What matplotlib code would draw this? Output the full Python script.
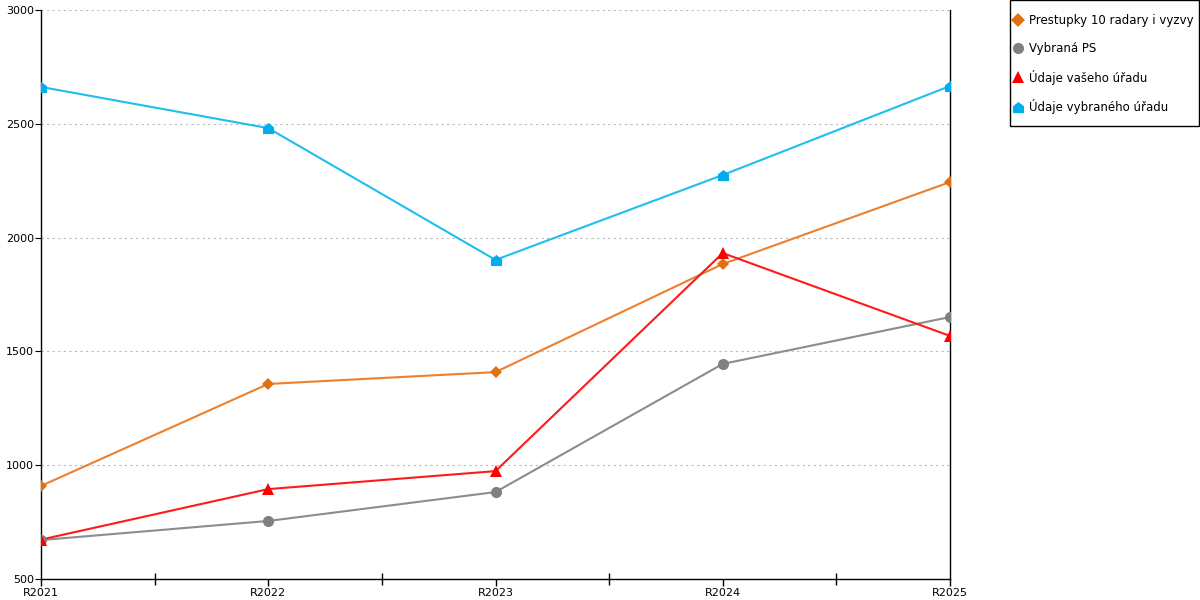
import matplotlib
matplotlib.use("Agg")
import matplotlib.pyplot as plt
import numpy as np
from matplotlib.path import Path
from matplotlib.lines import Line2D
from matplotlib.patches import Rectangle

# ─────────────────────────────────────────────────────────────
# Datos
# ─────────────────────────────────────────────────────────────
roky = ["R2021", "R2022", "R2023", "R2024", "R2025"]

prestupky = [909, 1357, 1409, 1884, 2244]
vybrana_ps = [671, 755, 882, 1445, 1651]
vas_urad = [673, 895, 974, 1932, 1568]
vybrany_urad = [2662, 2481, 1902, 2275, 2666]

nazvy = [
    "Prestupky 10 radary i vyzvy",
    "Vybraná PS",
    "Údaje vašeho úřadu",
    "Údaje vybraného úřadu",
]

# marker tipo "casita" (pentágono con punta arriba)
casa = Path(
    [(-1, -1), (1, -1), (1, 0.2), (0, 1), (-1, 0.2), (-1, -1)],
    [Path.MOVETO, Path.LINETO, Path.LINETO, Path.LINETO, Path.LINETO, Path.CLOSEPOLY],
)

series = [
    (prestupky, "#EE7F2D", "#E07010", "D", 6),
    (vybrana_ps, "#8C8C8C", "#808080", "o", 8),
    (vas_urad, "#FF1A1A", "#FF0000", "^", 9),
    (vybrany_urad, "#1EBEF0", "#00AEEF", casa, 8),
]

plt.rcParams["font.family"] = ["DejaVu Sans"]

W, H = 1200, 600
fig = plt.figure(figsize=(12, 6), dpi=100)
ax = fig.add_axes([41 / W, 21 / H, (950 - 41) / W, (579 - 10) / H])

x = np.arange(len(roky))
handles = []
for (vals, c_line, c_mark, mk, ms), nombre in zip(series, nazvy):
    ax.plot(x, vals, color=c_line, linewidth=1.5, zorder=3)
    ax.plot(x, vals, linestyle="none", marker=mk, markersize=ms,
            color=c_mark, markeredgewidth=0, zorder=4)
    handles.append(Line2D([], [], linestyle="none", marker=mk,
                          markersize=ms if mk != "D" else 7,
                          color=c_mark, markeredgewidth=0, label=nombre))

ax.set_xlim(0, len(roky) - 1)
ax.set_ylim(500, 3000)
ax.set_xticks(x)
ax.set_xticklabels(roky, fontsize=8)
ax.set_xticks(x[:-1] + 0.5, minor=True)
ax.tick_params(axis="x", which="major", direction="out", length=5, width=1, pad=1.5)
ax.tick_params(axis="x", which="minor", direction="inout", length=8, width=1)
ax.set_yticks(np.arange(500, 3001, 500))
ax.tick_params(axis="y", direction="out", length=4, labelsize=8, pad=1)

ax.grid(axis="y", linestyle=(0, (2, 3)), color="#BBBBBB", linewidth=0.8)
ax.set_axisbelow(True)

ax.spines["top"].set_visible(False)
for lado in ["left", "bottom", "right"]:
    ax.spines[lado].set_color("black")
    ax.spines[lado].set_linewidth(1)

# Leyenda sin marco + marco dibujado aparte
leg = fig.legend(
    handles=handles,
    loc="upper left",
    bbox_to_anchor=(1014 / W, 1 - 14 / H),
    fontsize=8.5,
    frameon=False,
    handlelength=0.7,
    handletextpad=0.55,
    labelspacing=1.25,
    borderpad=0,
    borderaxespad=0,
)
fig.add_artist(Rectangle((1009.5 / W, 1 - 126 / H), 189 / W, 125.5 / H,
                         transform=fig.transFigure, fill=False,
                         edgecolor="black", linewidth=1))

fig.savefig("out.png", dpi=100)
